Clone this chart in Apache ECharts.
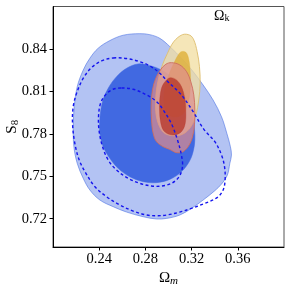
<!DOCTYPE html>
<html>
<head>
<meta charset="utf-8">
<script src="https://cdn.jsdelivr.net/npm/echarts@6/dist/echarts.min.js"></script>
<style>html,body{margin:0;padding:0;background:#fff}#c{width:291px;height:291px}</style>
</head>
<body>
<div id="c"></div>
<script>
const xTicks = [0.24, 0.28, 0.32, 0.36];
const yTicks = [0.72, 0.75, 0.78, 0.81, 0.84];

// Blue (filled) contours: 2-sigma and 1-sigma
const blueOuter = [[0.2752,0.8508],[0.2838,0.8501],[0.2925,0.8475],[0.3011,0.8417],[0.3127,0.8322],[0.3213,0.8240],[0.3300,0.8145],[0.3386,0.8039],[0.3459,0.7921],[0.3505,0.7804],[0.3536,0.7709],[0.3545,0.7650],[0.3531,0.7591],[0.3510,0.7509],[0.3459,0.7445],[0.3401,0.7398],[0.3300,0.7332],[0.3199,0.7273],[0.3098,0.7226],[0.2983,0.7202],[0.2896,0.7198],[0.2781,0.7214],[0.2637,0.7247],[0.2521,0.7285],[0.2406,0.7332],[0.2319,0.7403],[0.2262,0.7485],[0.2210,0.7591],[0.2181,0.7709],[0.2175,0.7851],[0.2184,0.7992],[0.2210,0.8134],[0.2262,0.8251],[0.2319,0.8334],[0.2391,0.8405],[0.2492,0.8459],[0.2608,0.8497]];
const blueInner = [[0.2737,0.8294],[0.2838,0.8282],[0.2939,0.8251],[0.3040,0.8193],[0.3127,0.8110],[0.3185,0.7992],[0.3219,0.7874],[0.3228,0.7756],[0.3213,0.7674],[0.3179,0.7603],[0.3112,0.7532],[0.3011,0.7478],[0.2896,0.7455],[0.2781,0.7462],[0.2665,0.7497],[0.2564,0.7556],[0.2492,0.7627],[0.2435,0.7709],[0.2406,0.7804],[0.2406,0.7910],[0.2429,0.8028],[0.2478,0.8122],[0.2550,0.8204],[0.2637,0.8263]];

// Dashed blue contours
const dashOuter = [[0.2521,0.8336],[0.2637,0.8332],[0.2752,0.8310],[0.2838,0.8280],[0.2919,0.8233],[0.2988,0.8174],[0.3112,0.8075],[0.3213,0.7957],[0.3306,0.7832],[0.3401,0.7745],[0.3459,0.7650],[0.3485,0.7568],[0.3490,0.7474],[0.3473,0.7403],[0.3421,0.7349],[0.3300,0.7304],[0.3199,0.7273],[0.3098,0.7247],[0.2983,0.7226],[0.2896,0.7221],[0.2810,0.7226],[0.2694,0.7254],[0.2579,0.7297],[0.2463,0.7356],[0.2363,0.7426],[0.2285,0.7521],[0.2227,0.7615],[0.2189,0.7733],[0.2169,0.7874],[0.2175,0.7992],[0.2204,0.8086],[0.2262,0.8193],[0.2334,0.8268],[0.2420,0.8315]];
const dashInner = [[0.2593,0.8124],[0.2694,0.8115],[0.2810,0.8075],[0.2896,0.8028],[0.2954,0.7969],[0.3026,0.7870],[0.3078,0.7756],[0.3112,0.7650],[0.3121,0.7568],[0.3092,0.7497],[0.3026,0.7450],[0.2939,0.7431],[0.2853,0.7431],[0.2752,0.7450],[0.2651,0.7485],[0.2550,0.7544],[0.2478,0.7615],[0.2429,0.7709],[0.2400,0.7815],[0.2394,0.7921],[0.2412,0.8016],[0.2458,0.8079],[0.2521,0.8115]];

// Yellow contours
const yellowOuter = [[0.3121,0.8501],[0.3185,0.8497],[0.3219,0.8464],[0.3248,0.8381],[0.3268,0.8275],[0.3274,0.8157],[0.3262,0.8039],[0.3236,0.7933],[0.3190,0.7846],[0.3121,0.7797],[0.3035,0.7787],[0.2960,0.7808],[0.2913,0.7870],[0.2890,0.7957],[0.2890,0.8063],[0.2908,0.8169],[0.2942,0.8275],[0.2991,0.8369],[0.3046,0.8452]];
const yellowInner = [[0.3112,0.8381],[0.3150,0.8376],[0.3173,0.8334],[0.3187,0.8251],[0.3190,0.8145],[0.3176,0.8039],[0.3141,0.7957],[0.3084,0.7921],[0.3017,0.7926],[0.2974,0.7969],[0.2960,0.8039],[0.2971,0.8134],[0.3006,0.8223],[0.3046,0.8299],[0.3084,0.8358]];

// Red contours
const redOuter = [[0.3026,0.8303],[0.3098,0.8287],[0.3156,0.8240],[0.3193,0.8169],[0.3219,0.8075],[0.3228,0.7969],[0.3225,0.7863],[0.3208,0.7780],[0.3179,0.7721],[0.3127,0.7674],[0.3069,0.7667],[0.3011,0.7690],[0.2954,0.7709],[0.2896,0.7745],[0.2867,0.7804],[0.2853,0.7898],[0.2850,0.8004],[0.2861,0.8110],[0.2890,0.8193],[0.2934,0.8256],[0.2977,0.8292]];
const redInner = [[0.3017,0.8197],[0.3069,0.8181],[0.3112,0.8134],[0.3141,0.8051],[0.3150,0.7957],[0.3144,0.7870],[0.3112,0.7815],[0.3055,0.7792],[0.2997,0.7799],[0.2954,0.7827],[0.2931,0.7886],[0.2922,0.7969],[0.2925,0.8051],[0.2942,0.8129],[0.2977,0.8176]];

const FONT = '"Liberation Serif", "DejaVu Serif", serif';

function contour(pts, style, z) {
  return {
    type: 'custom',
    coordinateSystem: 'cartesian2d',
    data: [pts[0]],
    silent: true,
    z: z,
    clip: true,
    renderItem: function (params, api) {
      return {
        type: 'polygon',
        shape: { points: pts.map(function (p) { return api.coord(p); }), smooth: 0.35 },
        style: style
      };
    }
  };
}

const chart = echarts.init(document.getElementById('c'), null, { renderer: 'canvas' });
chart.setOption({
  animation: false,
  backgroundColor: '#fff',
  grid: { left: 53, right: 7, top: 6.5, bottom: 44, containLabel: false, outerBoundsMode: 'none', show: true, borderColor: '#555', borderWidth: 1, backgroundColor: 'transparent' },
  xAxis: {
    type: 'value', min: 0.2, max: 0.4,
    name: '{a|Ω}{b|m}', nameLocation: 'middle', nameGap: 23, nameMoveOverlap: false,
    nameTextStyle: { rich: { a: { fontFamily: FONT, fontSize: 15, color: '#000' }, b: { fontFamily: FONT, fontSize: 11, fontStyle: 'italic', color: '#000', padding: [6, 0, 0, 0] } } },
    axisLine: { show: true, lineStyle: { color: '#000', width: 1 } },
    axisTick: { show: true, customValues: xTicks, length: 3.5, lineStyle: { color: '#000' } },
    axisLabel: { customValues: xTicks, formatter: function (v) { return v.toFixed(2); }, fontFamily: FONT, fontSize: 14.5, color: '#000', margin: 5 },
    splitLine: { show: false }
  },
  yAxis: {
    type: 'value', min: 0.70, max: 0.87,
    name: '{a|S}{b|8}', nameLocation: 'middle', nameGap: 32, nameRotate: 90, nameMoveOverlap: false,
    nameTextStyle: { rich: { a: { fontFamily: FONT, fontSize: 15, color: '#000' }, b: { fontFamily: FONT, fontSize: 11, color: '#000', padding: [6, 0, 0, 0] } } },
    axisLine: { show: true, lineStyle: { color: '#000', width: 1 } },
    axisTick: { show: true, customValues: yTicks, length: 3.5, lineStyle: { color: '#000' } },
    axisLabel: { customValues: yTicks, formatter: function (v) { return v.toFixed(2); }, fontFamily: FONT, fontSize: 14.5, color: '#000', margin: 6 },
    splitLine: { show: false }
  },
  graphic: [{
    type: 'text', left: 214, top: 9, silent: true,
    style: { text: '{a|Ω}{b|k}', rich: { a: { fontFamily: FONT, fontSize: 14, fill: '#000' }, b: { fontFamily: FONT, fontSize: 10, fill: '#000', padding: [5, 0, 0, 0] } } }
  }],
  series: [
    contour(blueOuter, { fill: 'rgba(65,105,225,0.4)', stroke: 'rgba(65,105,225,0.55)', lineWidth: 1 }, 1),
    contour(blueInner, { fill: 'rgba(65,105,225,1)', stroke: 'rgba(65,105,225,1)', lineWidth: 0.5 }, 2),
    contour(yellowOuter, { fill: 'rgba(242,222,160,0.75)', stroke: 'rgba(222,190,110,0.9)', lineWidth: 1 }, 3),
    contour(yellowInner, { fill: 'rgba(222,175,55,0.8)', stroke: 'rgba(222,175,55,0.8)', lineWidth: 0.5 }, 4),
    contour(redOuter, { fill: 'rgba(222,140,140,0.7)', stroke: 'rgba(205,110,95,0.9)', lineWidth: 1 }, 5),
    contour(redInner, { fill: 'rgba(180,50,38,0.75)', stroke: 'rgba(180,50,38,0.6)', lineWidth: 0.5 }, 6),
    contour(dashOuter, { fill: 'none', stroke: '#1414ee', lineWidth: 1.4, lineDash: [3, 2.5] }, 7),
    contour(dashInner, { fill: 'none', stroke: '#1414ee', lineWidth: 1.4, lineDash: [3, 2.5] }, 8)
  ]
});
</script>
</body>
</html>
